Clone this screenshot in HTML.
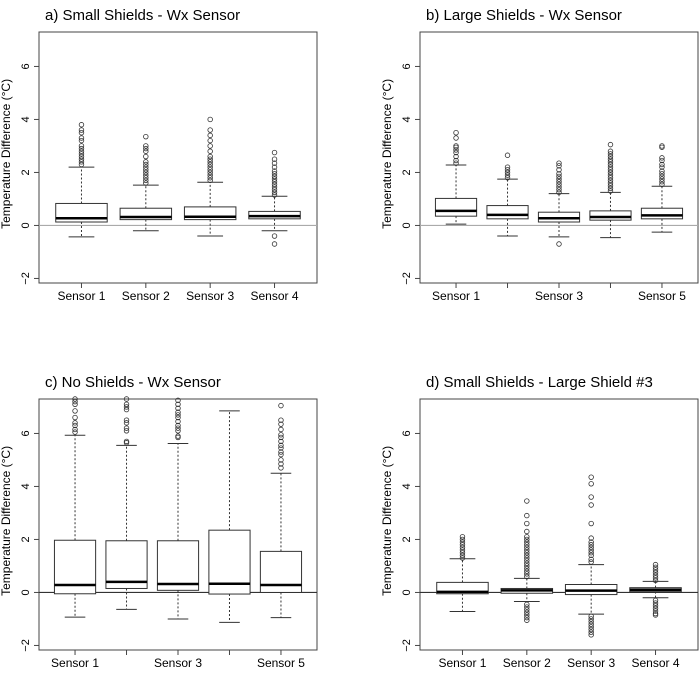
<!DOCTYPE html>
<html><head><meta charset="utf-8">
<style>
html,body{margin:0;padding:0;background:#fff;}
svg{display:block;font-family:"Liberation Sans",Arial,sans-serif;}
</style></head>
<body>
<svg id="fig" width="700" height="674" viewBox="0 0 700 674" xmlns="http://www.w3.org/2000/svg"></svg>
<script>
// ---- Panel a: Small Shields - Wx Sensor ----
const aCats = ["Sensor 1","Sensor 2","Sensor 3","Sensor 4"];
const aLow  = [-0.43,-0.2,-0.4,-0.2];
const aQ1   = [0.13,0.22,0.22,0.25];
const aMed  = [0.27,0.32,0.33,0.35];
const aQ3   = [0.83,0.65,0.7,0.53];
const aHigh = [2.2,1.52,1.63,1.1];
const aOut  = [[2.3,2.4,2.5,2.6,2.7,2.8,2.9,3.0,3.2,3.3,3.5,3.6,3.8],
               [1.6,1.7,1.8,1.9,2.0,2.1,2.2,2.3,2.4,2.6,2.8,2.9,3.0,3.35],
               [1.7,1.8,1.9,2.0,2.1,2.2,2.3,2.4,2.5,2.6,2.8,3.0,3.2,3.4,3.6,4.0],
               [1.15,1.25,1.35,1.45,1.55,1.65,1.75,1.85,1.95,2.05,2.2,2.35,2.5,2.75,-0.4,-0.7]];
// ---- Panel b: Large Shields - Wx Sensor ----
const bCats = ["Sensor 1","","Sensor 3","","Sensor 5"];
const bLow  = [0.05,-0.4,-0.43,-0.46,-0.25];
const bQ1   = [0.35,0.25,0.13,0.2,0.25];
const bMed  = [0.55,0.4,0.27,0.32,0.38];
const bQ3   = [1.02,0.75,0.5,0.55,0.65];
const bHigh = [2.28,1.75,1.2,1.25,1.48];
const bOut  = [[2.35,2.45,2.6,2.75,2.85,2.95,3.0,3.3,3.5],
               [1.8,1.9,2.0,2.1,2.2,2.65],
               [1.25,1.35,1.45,1.55,1.65,1.75,1.85,1.95,2.1,2.25,2.35,-0.7],
               [1.3,1.4,1.5,1.6,1.7,1.8,1.9,2.0,2.1,2.2,2.3,2.4,2.5,2.6,2.7,2.8,3.05],
               [1.55,1.65,1.75,1.85,1.95,2.05,2.2,2.3,2.45,2.55,2.95,3.0]];
// ---- Panel c: No Shields - Wx Sensor ----
const cCats = ["Sensor 1","","Sensor 3","","Sensor 5"];
const cLow  = [-0.93,-0.64,-1.0,-1.13,-0.95];
const cQ1   = [-0.05,0.15,0.08,-0.06,0.0];
const cMed  = [0.28,0.4,0.32,0.33,0.28];
const cQ3   = [1.97,1.95,1.95,2.35,1.55];
const cHigh = [5.93,5.55,5.62,6.85,4.5];
const cOut  = [[6.05,6.15,6.3,6.4,6.6,6.85,7.1,7.2,7.3],
               [5.65,5.7,6.1,6.2,6.4,6.5,6.9,7.0,7.1,7.3],
               [5.85,5.9,6.1,6.2,6.3,6.45,6.6,6.7,6.8,6.95,7.1,7.25],
               [],
               [4.7,4.85,5.0,5.2,5.3,5.45,5.55,5.7,5.85,5.95,6.15,6.35,6.5,7.05]];
// ---- Panel d: Small Shields - Large Shield #3 ----
const dCats = ["Sensor 1","Sensor 2","Sensor 3","Sensor 4"];
const dLow  = [-0.72,-0.34,-0.82,-0.2];
const dQ1   = [-0.05,-0.03,-0.08,0.03];
const dMed  = [0.02,0.08,0.07,0.1];
const dQ3   = [0.38,0.15,0.3,0.18];
const dHigh = [1.27,0.53,1.05,0.42];
const dOut  = [[1.3,1.4,1.5,1.6,1.7,1.8,1.9,2.0,2.1],
               [0.6,0.7,0.8,0.9,1.0,1.1,1.2,1.3,1.4,1.5,1.6,1.7,1.8,1.9,2.0,2.1,2.3,2.6,2.9,3.45,-0.45,-0.55,-0.65,-0.75,-0.85,-0.95,-1.05],
               [1.15,1.25,1.4,1.5,1.6,1.7,1.8,1.9,2.05,2.6,3.3,3.6,4.1,4.35,-0.9,-1.0,-1.1,-1.2,-1.3,-1.4,-1.5,-1.6],
               [0.45,0.55,0.65,0.75,0.85,0.95,1.05,-0.3,-0.4,-0.5,-0.6,-0.7,-0.8,-0.85]];
const yTicks = [-2,0,2,4,6];

const NS = "http://www.w3.org/2000/svg";
const svg = document.getElementById("fig");
function mk(tag, attrs, parent){
  const e = document.createElementNS(NS, tag);
  for (const k in attrs) e.setAttribute(k, attrs[k]);
  (parent||svg).appendChild(e);
  return e;
}

function panel(id, title, ox, oy, cats, low, q1, med, q3, high, outs, zeroCol){
  const g = mk("g", {});
  
  
  const x0 = 39 + ox, x1 = 317 + ox, y0 = 32 + oy, y1 = 283 + oy;
  const n = cats.length;
  const unit = (x1 - x0) / (n * 1.08);
  const xs = i => x0 + unit * (0.04 * n + 0.5 + i);
  const ys = v => y0 + (7.3 - v) * 26.5;

  const t = mk("text", {x: 6 + ox + 39, y: 20 + oy, "font-size": 15, fill: "#000"}, g);
  t.textContent = title;
  
  

  // frame
  const fr = mk("rect", {x: x0, y: y0, width: x1 - x0, height: y1 - y0, fill: "none", stroke: "#444", "stroke-width": 1}, g);
  
  

  // y axis
  yTicks.forEach(v => {
    mk("line", {x1: x0 - 5, x2: x0, y1: ys(v), y2: ys(v), stroke: "#444"}, g);
    const lt = mk("text", {x: 0, y: 0, "font-size": 11, "text-anchor": "middle", transform: `translate(${x0 - 10},${ys(v)}) rotate(-90)`}, g);
    lt.textContent = v < 0 ? "\u2212" + Math.abs(v) : String(v);
    
    
  });
  const yt = mk("text", {x: 0, y: 0, "font-size": 12, "text-anchor": "middle", transform: `translate(${x0 - 29},${ys(2.7)}) rotate(-90)`}, g);
  yt.textContent = "Temperature Difference (\u00B0C)";
  
  

  // zero line
  const zl = mk("line", {x1: x0, x2: x1, y1: ys(0), y2: ys(0), stroke: zeroCol, "stroke-width": 1.2}, g);
  
  

  const bw = unit * 0.8;
  for (let i = 0; i < n; i++){
    const cx = xs(i);
    mk("line", {x1: cx, x2: cx, y1: y1, y2: y1 + 5, stroke: "#444"}, g);
    if (cats[i]){
      const xl = mk("text", {x: cx, y: y1 + 17, "font-size": 12, "text-anchor": "middle"}, g);
      xl.textContent = cats[i];
      
      
    }
    const bg = mk("g", {}, g);
    
    
    mk("line", {x1: cx, x2: cx, y1: ys(q3[i]), y2: ys(high[i]), stroke: "#333", "stroke-dasharray": "2,2"}, bg);
    mk("line", {x1: cx, x2: cx, y1: ys(q1[i]), y2: ys(low[i]), stroke: "#333", "stroke-dasharray": "2,2"}, bg);
    mk("line", {x1: cx - bw / 4, x2: cx + bw / 4, y1: ys(high[i]), y2: ys(high[i]), stroke: "#333"}, bg);
    mk("line", {x1: cx - bw / 4, x2: cx + bw / 4, y1: ys(low[i]), y2: ys(low[i]), stroke: "#333"}, bg);
    mk("rect", {x: cx - bw / 2, y: ys(q3[i]), width: bw, height: ys(q1[i]) - ys(q3[i]), fill: "#fff", stroke: "#333"}, bg);
    mk("line", {x1: cx - bw / 2, x2: cx + bw / 2, y1: ys(med[i]), y2: ys(med[i]), stroke: "#000", "stroke-width": 2.5}, bg);
    outs[i].forEach(v => {
      const c = mk("circle", {cx: cx, cy: ys(v), r: 2.3, fill: "none", stroke: "#333", "stroke-width": 0.8}, bg);
      
      
    });
  }
}

panel("a", "a) Small Shields - Wx Sensor", 0, 0, aCats, aLow, aQ1, aMed, aQ3, aHigh, aOut, "#aaa");
panel("b", "b) Large Shields - Wx Sensor", 381, 0, bCats, bLow, bQ1, bMed, bQ3, bHigh, bOut, "#aaa");
panel("c", "c) No Shields - Wx Sensor", 0, 367, cCats, cLow, cQ1, cMed, cQ3, cHigh, cOut, "#333");
panel("d", "d) Small Shields - Large Shield #3", 381, 367, dCats, dLow, dQ1, dMed, dQ3, dHigh, dOut, "#333");
</script>
</body></html>
